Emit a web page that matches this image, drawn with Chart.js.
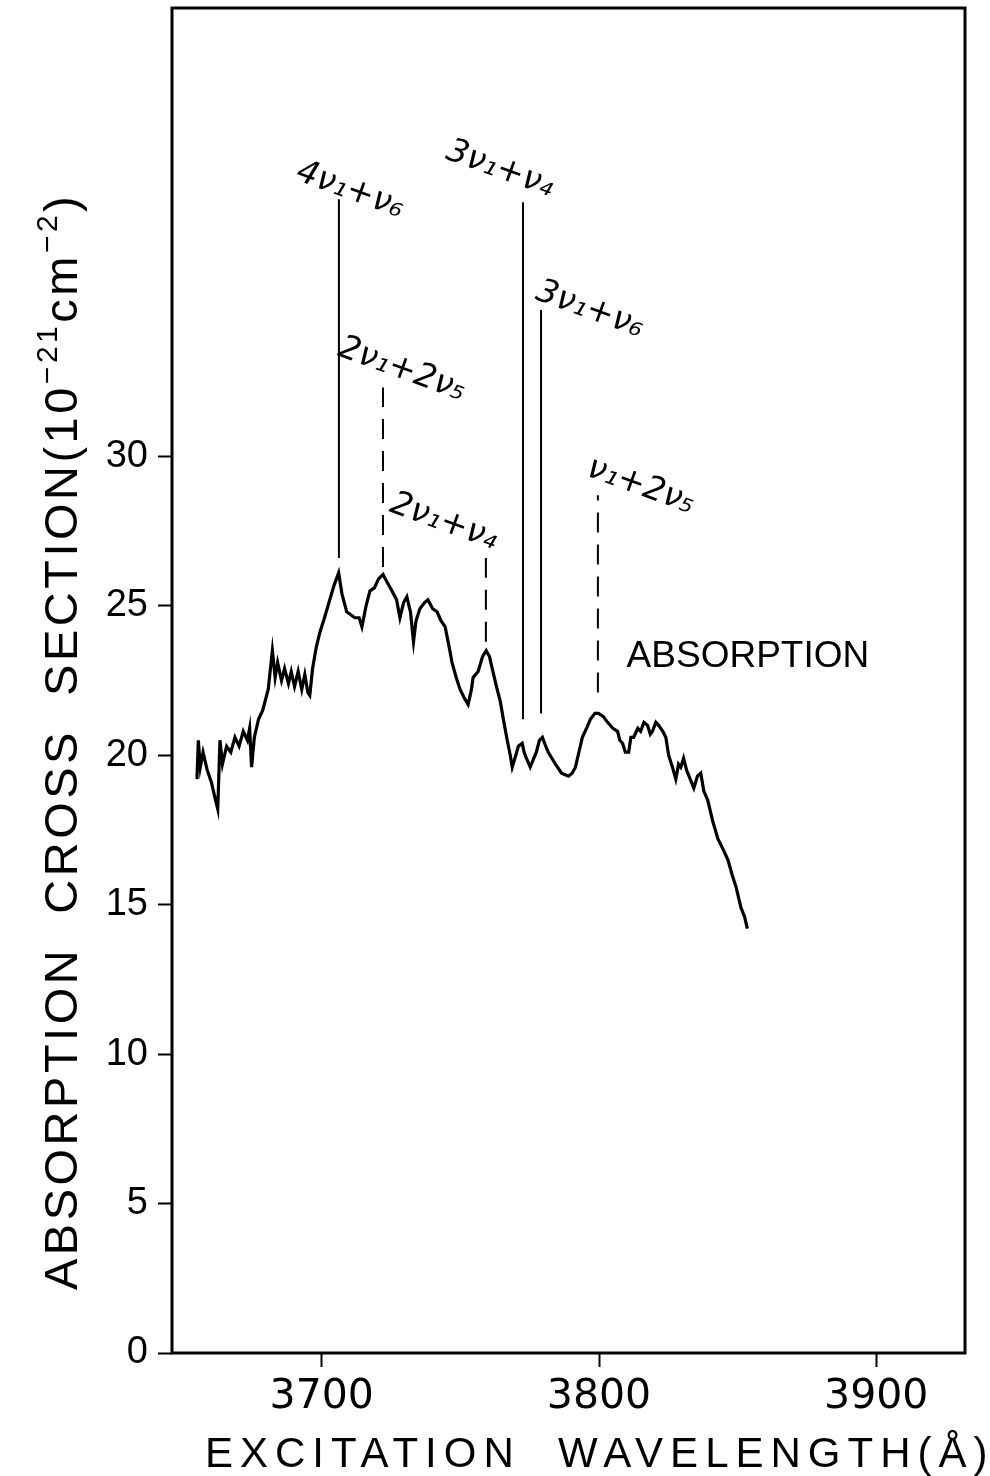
<!DOCTYPE html>
<html>
<head>
<meta charset="utf-8">
<script src="https://cdn.jsdelivr.net/npm/chart.js@4/dist/chart.umd.min.js"></script>
<style>
html,body{margin:0;padding:0;background:#fff;}
#wrap{width:990px;height:1476px;position:relative;}
</style>
</head>
<body>
<div id="wrap"><canvas id="c"></canvas></div>
<script>
// ---- data ----
const waveX = [3655.0,3655.5,3656.2,3657.2,3658.7,3660.2,3661.7,3662.5,3663.3,3664.2,3665.7,3667.2,3668.7,3670.2,3671.7,3673.2,3674.0,3674.7,3675.7,3677.2,3678.7,3680.7,3682.2,3683.2,3684.1,3685.5,3686.6,3688.0,3689.0,3690.2,3691.5,3692.8,3693.9,3695.0,3695.7,3696.7,3698.0,3699.3,3701.0,3702.9,3704.5,3706.1,3707.3,3709.0,3710.5,3711.9,3713.5,3714.5,3716.0,3717.4,3719.0,3720.5,3722.1,3723.5,3725.3,3727.0,3728.2,3729.5,3730.7,3732.0,3733.1,3734.0,3735.4,3737.0,3738.3,3740.0,3741.6,3743.0,3744.5,3746.0,3747.0,3748.5,3749.9,3751.5,3752.8,3754.0,3754.6,3756.4,3758.0,3759.3,3760.5,3761.5,3763.0,3764.4,3765.5,3766.9,3768.0,3768.7,3770.0,3770.9,3772.3,3773.0,3773.8,3775.2,3776.5,3777.4,3778.5,3779.6,3780.8,3781.7,3783.0,3784.3,3786.5,3789.0,3790.3,3791.5,3793.0,3794.0,3795.5,3796.9,3798.5,3799.8,3801.5,3803.1,3805.0,3806.7,3807.5,3808.5,3809.5,3810.7,3811.5,3812.5,3814.0,3815.0,3816.2,3817.5,3818.5,3819.3,3820.5,3821.5,3823.0,3824.1,3825.1,3826.5,3827.7,3828.7,3829.5,3830.5,3831.6,3832.9,3834.2,3835.5,3836.7,3837.8,3839.2,3841.0,3842.9,3844.5,3846.5,3848.0,3849.4,3851.2,3852.5,3853.5];
const absY = [19.2,20.5,19.6,20.1,19.5,19.1,18.5,18.2,20.5,19.7,20.3,20.1,20.6,20.3,20.8,20.5,20.9,19.6,20.6,21.2,21.5,22.2,23.5,22.6,23.1,22.5,22.9,22.4,22.8,22.3,22.8,22.2,22.7,22.1,22.0,22.9,23.6,24.1,24.6,25.2,25.7,26.1,25.4,24.8,24.7,24.6,24.6,24.3,25.0,25.5,25.6,25.9,26.05,25.8,25.5,25.2,24.6,25.1,25.3,24.8,23.8,24.5,24.9,25.1,25.2,24.9,24.8,24.5,24.3,23.6,23.1,22.6,22.2,21.9,21.7,22.2,22.6,22.8,23.3,23.5,23.3,22.9,22.3,21.8,21.2,20.5,20.0,19.6,20.0,20.3,20.4,20.1,19.9,19.6,19.9,20.1,20.5,20.6,20.3,20.1,19.9,19.7,19.4,19.3,19.4,19.6,20.2,20.6,20.9,21.2,21.4,21.4,21.3,21.1,20.9,20.8,20.5,20.4,20.1,20.1,20.6,20.6,20.9,20.8,21.1,21.0,20.7,20.8,21.1,21.0,20.8,20.6,20.0,19.6,19.2,19.7,19.6,19.9,19.5,19.2,18.9,19.3,19.4,18.8,18.5,17.8,17.2,16.9,16.5,16.0,15.6,14.9,14.6,14.2];

const xTickValues = [3700, 3800, 3900];
const yTickValues = [0, 5, 10, 15, 20, 25, 30];

const bandLabels = ['4ν₁+ν₆', '2ν₁+2ν₅', '2ν₁+ν₄', '3ν₁+ν₄', '3ν₁+ν₆', 'ν₁+2ν₅'];
const bandX      = [3706.2, 3722.1, 3759.2, 3772.6, 3779.1, 3799.6];
const bandTop    = [38.6, 32.3, 26.6, 38.5, 34.9, 28.7];
const bandBottom = [26.6, 26.3, 23.8, 21.2, 21.4, 22.1];
const bandDashed = [false, true, true, false, false, true];
const bandLabelX = [3710.2, 3728.9, 3744.0, 3764.3, 3796.7, 3815.1];
const bandLabelY = [38.9, 32.9, 27.8, 39.6, 34.9, 29.0];

const curveLabel = 'ABSORPTION';
const curveLabelX = 3853.7;
const curveLabelY = 23.3;

const xTitle = 'EXCITATION  WAVELENGTH(Å)';
const yTitleParts = [
  ['ABSORPTION  CROSS  SECTION(10', false],
  ['−21', true],
  ['cm', false],
  ['−2', true],
  [')', false]
];

// ---- chart ----
const curve = waveX.map((v, i) => ({x: v, y: absY[i]}));
const bandSets = bandX.map((v, i) => ({
  data: [{x: v, y: bandBottom[i]}, {x: v, y: bandTop[i]}],
  borderColor: '#000',
  borderWidth: 2,
  borderDash: bandDashed[i] ? [20, 12] : [],
  pointRadius: 0,
  fill: false
}));

const decor = {
  id: 'decor',
  afterDraw(chart) {
    const {ctx, chartArea: a, scales: {x, y}} = chart;
    ctx.save();
    ctx.strokeStyle = '#000';
    ctx.lineWidth = 3;
    ctx.strokeRect(a.left, a.top, a.right - a.left, a.bottom - a.top);

    ctx.fillStyle = '#000';
    ctx.textAlign = 'center';
    ctx.textBaseline = 'middle';
    ctx.font = "italic 33px 'DejaVu Sans'";
    bandLabels.forEach((t, i) => {
      ctx.save();
      ctx.translate(x.getPixelForValue(bandLabelX[i]), y.getPixelForValue(bandLabelY[i]));
      ctx.rotate(20 * Math.PI / 180);
      ctx.fillText(t, 0, 0);
      ctx.restore();
    });

    ctx.font = "37px 'Liberation Sans'";
    ctx.fillText(curveLabel, x.getPixelForValue(curveLabelX), y.getPixelForValue(curveLabelY));

    // x axis title
    ctx.letterSpacing = '7px';
    ctx.font = "42px 'Liberation Sans'";
    ctx.textAlign = 'left';
    ctx.textBaseline = 'alphabetic';
    ctx.fillText(xTitle, a.left + 33, a.bottom + 114);

    // y axis title (rotated)
    ctx.save();
    ctx.translate(a.left - 95, a.bottom - 63);
    ctx.rotate(-Math.PI / 2);
    ctx.letterSpacing = '3.5px';
    let pos = 0;
    yTitleParts.forEach(([t, sup]) => {
      ctx.font = sup ? "30px 'Liberation Sans'" : "47px 'Liberation Sans'";
      ctx.fillText(t, pos, sup ? -20 : 0);
      pos += ctx.measureText(t).width;
    });
    ctx.restore();
    ctx.letterSpacing = '0px';
    ctx.restore();
  }
};

new Chart(document.getElementById('c'), {
  type: 'line',
  data: {
    datasets: [{
      data: curve,
      borderColor: '#000',
      borderWidth: 3.2,
      pointRadius: 0,
      tension: 0,
      fill: false
    }, ...bandSets]
  },
  options: {
    responsive: true,
    maintainAspectRatio: false,
    animation: false,
    devicePixelRatio: 1,
    layout: {padding: {top: 8, right: 25, left: 0, bottom: 0}},
    plugins: {legend: {display: false}, tooltip: {enabled: false}},
    scales: {
      x: {
        type: 'linear',
        min: 3646,
        max: 3932,
        afterBuildTicks: s => { s.ticks = xTickValues.map(v => ({value: v})); },
        afterFit: s => { s.height = 123; s.paddingLeft = 0; s.paddingRight = 0; },
        grid: {display: true, drawOnChartArea: false, drawTicks: true, tickLength: 14, tickWidth: 2, tickColor: '#000'},
        border: {display: false},
        ticks: {color: '#000', padding: 6, maxRotation: 0, callback: v => String(v), font: {family: "'DejaVu Sans'", size: 41}}
      },
      y: {
        type: 'linear',
        min: 0,
        max: 45,
        afterBuildTicks: s => { s.ticks = yTickValues.map(v => ({value: v})); },
        afterFit: s => { s.width = 172; s.paddingTop = 0; s.paddingBottom = 0; },
        grid: {display: true, drawOnChartArea: false, drawTicks: true, tickLength: 14, tickWidth: 2, tickColor: '#000'},
        border: {display: false},
        ticks: {color: '#000', padding: 10, callback: v => String(v), font: {family: "'Liberation Sans'", size: 38}}
      }
    }
  },
  plugins: [decor]
});
</script>
</body>
</html>
